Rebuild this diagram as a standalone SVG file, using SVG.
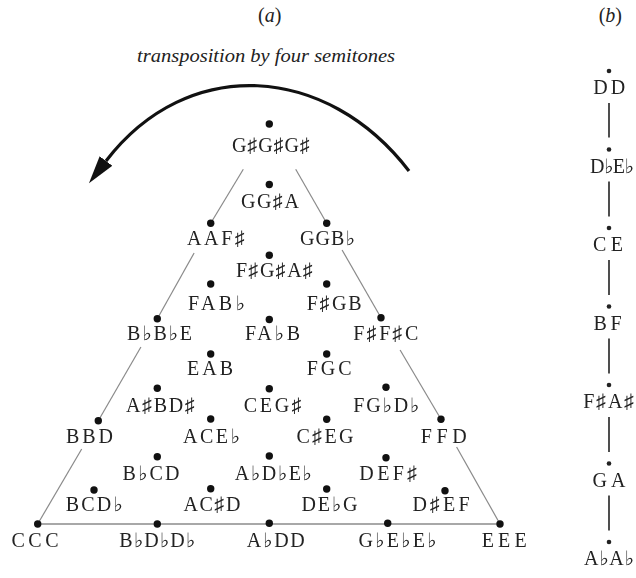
<svg xmlns="http://www.w3.org/2000/svg" width="636" height="578" viewBox="0 0 636 578">
<style>
text{font-family:"Liberation Serif","DejaVu Serif","DejaVu Sans",serif;fill:#222;}
.lb{font-size:20px;text-anchor:middle;filter:url(#gs);}
.bl{font-size:20px;text-anchor:middle;filter:url(#gs);}
.ttl{font-size:20px;text-anchor:middle;}
.it{font-style:italic;}
.dot{fill:#111;}
.sdot{fill:#222;}
.edge{stroke:#8a8a8a;stroke-width:1.2;fill:none;}
.base{stroke:#a8a8a8;stroke-width:2.2;fill:none;}
.bline{stroke:#222;stroke-width:1.6;fill:none;}
.arc{stroke:#111;stroke-width:3.2;fill:none;}
</style>
<defs>
<filter id="gs" x="-10%" y="-30%" width="120%" height="160%" color-interpolation-filters="sRGB">
<feColorMatrix type="saturate" values="0"/>
</filter>
<marker id="ah" markerUnits="userSpaceOnUse" markerWidth="32" markerHeight="20" refX="0" refY="8" orient="auto" viewBox="0 0 32 16">
<path d="M0,0 L28,8 L0,16 Z" fill="#111"/>
</marker>
</defs>

<g id="titles">
<text class="ttl" x="269.7" y="22">(<tspan class="it">a</tspan>)</text>
<text class="ttl" x="610.3" y="22">(<tspan class="it">b</tspan>)</text>
<text class="it" x="266" y="62" font-size="19" text-anchor="middle" textLength="258" lengthAdjust="spacingAndGlyphs">transposition by four semitones</text>
</g>

<g id="connectors">
<path class="arc" d="M409,171 C327,64 188,54 106,161" marker-end="url(#ah)"/>
<line class="edge" x1="243.3" y1="169.3" x2="210.7" y2="223.3"/>
<line class="edge" x1="194.1" y1="253" x2="157.3" y2="318.7"/>
<line class="edge" x1="140.9" y1="347" x2="98.3" y2="420.7"/>
<line class="edge" x1="81.7" y1="449" x2="37.7" y2="524"/>
<line class="edge" x1="295.7" y1="169.3" x2="326.7" y2="223.3"/>
<line class="edge" x1="342.1" y1="250" x2="381" y2="317.7"/>
<line class="edge" x1="400.1" y1="350" x2="441" y2="419.3"/>
<line class="edge" x1="456.6" y1="447" x2="500" y2="524"/>
<line class="base" x1="37.7" y1="524" x2="500" y2="524"/>
<line class="bline" x1="609" y1="103" x2="609" y2="137.5"/>
<line class="bline" x1="609" y1="181.5" x2="609" y2="216.5"/>
<line class="bline" x1="609" y1="260" x2="609" y2="295"/>
<line class="bline" x1="609" y1="338.5" x2="609" y2="373.5"/>
<line class="bline" x1="609" y1="417" x2="609" y2="452"/>
<line class="bline" x1="609" y1="495.5" x2="609" y2="530.5"/>
</g>

<g id="n-GsGsGs"><circle class="dot" cx="269.3" cy="124" r="3.7"/><text class="lb" x="271" y="152" textLength="78" lengthAdjust="spacing">G♯G♯G♯</text></g>
<g id="n-GGsA"><circle class="dot" cx="269.3" cy="184.5" r="3.7"/><text class="lb" x="270" y="207.5" textLength="58" lengthAdjust="spacing">GG♯A</text></g>
<g id="n-AAFs"><circle class="dot" cx="210.7" cy="223.3" r="3.7"/><text class="lb" x="216" y="245" textLength="58" lengthAdjust="spacing">AAF♯</text></g>
<g id="n-GGBb"><circle class="dot" cx="326.7" cy="223.3" r="3.7"/><text class="lb" x="327.5" y="245" textLength="55" lengthAdjust="spacing">GGB♭</text></g>
<g id="n-FsGsAs"><circle class="dot" cx="269.3" cy="255.3" r="3.7"/><text class="lb" x="274.5" y="277" textLength="77" lengthAdjust="spacing">F♯G♯A♯</text></g>
<g id="n-FABb"><circle class="dot" cx="210.7" cy="284" r="3.7"/><text class="lb" x="216.5" y="310" textLength="57" lengthAdjust="spacing">FAB♭</text></g>
<g id="n-FsGB"><circle class="dot" cx="326.7" cy="284" r="3.7"/><text class="lb" x="334.2" y="310" textLength="55" lengthAdjust="spacing">F♯GB</text></g>
<g id="n-BbBbE"><circle class="dot" cx="157.3" cy="318.7" r="3.7"/><text class="lb" x="159.5" y="340" textLength="65" lengthAdjust="spacing">B♭B♭E</text></g>
<g id="n-FAbB"><circle class="dot" cx="269.3" cy="319.5" r="3.7"/><text class="lb" x="272.5" y="340" textLength="55" lengthAdjust="spacing">FA♭B</text></g>
<g id="n-FsFsC"><circle class="dot" cx="381" cy="317.7" r="3.7"/><text class="lb" x="385.8" y="340" textLength="65" lengthAdjust="spacing">F♯F♯C</text></g>
<g id="n-EAB"><circle class="dot" cx="210.7" cy="354" r="3.7"/><text class="lb" x="210" y="375" textLength="46" lengthAdjust="spacing">EAB</text></g>
<g id="n-FGC"><circle class="dot" cx="326.7" cy="354" r="3.7"/><text class="lb" x="329.2" y="375" textLength="45" lengthAdjust="spacing">FGC</text></g>
<g id="n-AsBDs"><circle class="dot" cx="157.3" cy="388.3" r="3.7"/><text class="lb" x="160.5" y="411.5" textLength="69" lengthAdjust="spacing">A♯BD♯</text></g>
<g id="n-CEGs"><circle class="dot" cx="269.3" cy="388.8" r="3.7"/><text class="lb" x="272.8" y="411.5" textLength="58" lengthAdjust="spacing">CEG♯</text></g>
<g id="n-FGbDb"><circle class="dot" cx="386" cy="387.3" r="3.7"/><text class="lb" x="386.3" y="411.5" textLength="66" lengthAdjust="spacing">FG♭D♭</text></g>
<g id="n-BBD"><circle class="dot" cx="98.3" cy="420.7" r="3.7"/><text class="lb" x="89.5" y="443" textLength="47" lengthAdjust="spacing">BBD</text></g>
<g id="n-ACEb"><circle class="dot" cx="210.7" cy="419" r="3.7"/><text class="lb" x="211.5" y="443" textLength="57" lengthAdjust="spacing">ACE♭</text></g>
<g id="n-CsEG"><circle class="dot" cx="326.7" cy="419.3" r="3.7"/><text class="lb" x="325" y="443" textLength="57" lengthAdjust="spacing">C♯EG</text></g>
<g id="n-FFD"><circle class="dot" cx="441" cy="419.3" r="3.7"/><text class="lb" x="443.7" y="443" textLength="46" lengthAdjust="spacing">FFD</text></g>
<g id="n-BbCD"><circle class="dot" cx="157.3" cy="456.7" r="3.7"/><text class="lb" x="151" y="479.5" textLength="57" lengthAdjust="spacing">B♭CD</text></g>
<g id="n-AbDbEb"><circle class="dot" cx="269.3" cy="456" r="3.7"/><text class="lb" x="273.3" y="479.5" textLength="77" lengthAdjust="spacing">A♭D♭E♭</text></g>
<g id="n-DEFs"><circle class="dot" cx="386" cy="457.7" r="3.7"/><text class="lb" x="388.3" y="479.5" textLength="58" lengthAdjust="spacing">DEF♯</text></g>
<g id="n-BCDb"><circle class="dot" cx="94" cy="490" r="3.7"/><text class="lb" x="94.3" y="510.5" textLength="57" lengthAdjust="spacing">BCD♭</text></g>
<g id="n-ACsD"><circle class="dot" cx="210.7" cy="488.7" r="3.7"/><text class="lb" x="212" y="510.5" textLength="57" lengthAdjust="spacing">AC♯D</text></g>
<g id="n-DEbG"><circle class="dot" cx="326.7" cy="489" r="3.7"/><text class="lb" x="329.5" y="510.5" textLength="56" lengthAdjust="spacing">DE♭G</text></g>
<g id="n-DsEF"><circle class="dot" cx="445" cy="490.7" r="3.7"/><text class="lb" x="441" y="510.5" textLength="57" lengthAdjust="spacing">D♯EF</text></g>
<g id="n-CCC"><circle class="dot" cx="37.7" cy="524" r="3.7"/><text class="lb" x="35" y="546.5" textLength="47" lengthAdjust="spacing">CCC</text></g>
<g id="n-BbDbDb"><circle class="dot" cx="157.3" cy="524" r="3.7"/><text class="lb" x="157.2" y="546.5" textLength="76" lengthAdjust="spacing">B♭D♭D♭</text></g>
<g id="n-AbDD"><circle class="dot" cx="269.3" cy="523.3" r="3.7"/><text class="lb" x="275.8" y="546.5" textLength="58" lengthAdjust="spacing">A♭DD</text></g>
<g id="n-GbEbEb"><circle class="dot" cx="387.7" cy="523.3" r="3.7"/><text class="lb" x="397.5" y="546.5" textLength="78" lengthAdjust="spacing">G♭E♭E♭</text></g>
<g id="n-EEE"><circle class="dot" cx="500" cy="524" r="3.7"/><text class="lb" x="504.2" y="546.5" textLength="45" lengthAdjust="spacing">EEE</text></g>

<g id="b-DD"><circle class="sdot" cx="609" cy="71" r="2.3"/><text class="bl" x="609.2" y="94" textLength="32" lengthAdjust="spacing">DD</text></g>
<g id="b-DbEb"><circle class="sdot" cx="609" cy="149.5" r="2.3"/><text class="bl" x="612" y="172.5" textLength="44" lengthAdjust="spacing">D♭E♭</text></g>
<g id="b-CE"><circle class="sdot" cx="609" cy="228" r="2.3"/><text class="bl" x="608" y="251" textLength="30" lengthAdjust="spacing">CE</text></g>
<g id="b-BF"><circle class="sdot" cx="609" cy="306.5" r="2.3"/><text class="bl" x="607.5" y="329.5" textLength="28" lengthAdjust="spacing">BF</text></g>
<g id="b-FsAs"><circle class="sdot" cx="609" cy="385" r="2.3"/><text class="bl" x="608.7" y="408" textLength="51" lengthAdjust="spacing">F♯A♯</text></g>
<g id="b-GA"><circle class="sdot" cx="609" cy="463.5" r="2.3"/><text class="bl" x="609" y="486.5" textLength="33" lengthAdjust="spacing">GA</text></g>
<g id="b-AbAb"><circle class="sdot" cx="609" cy="542" r="2.3"/><text class="bl" x="609" y="565" textLength="50" lengthAdjust="spacing">A♭A♭</text></g>
</svg>
